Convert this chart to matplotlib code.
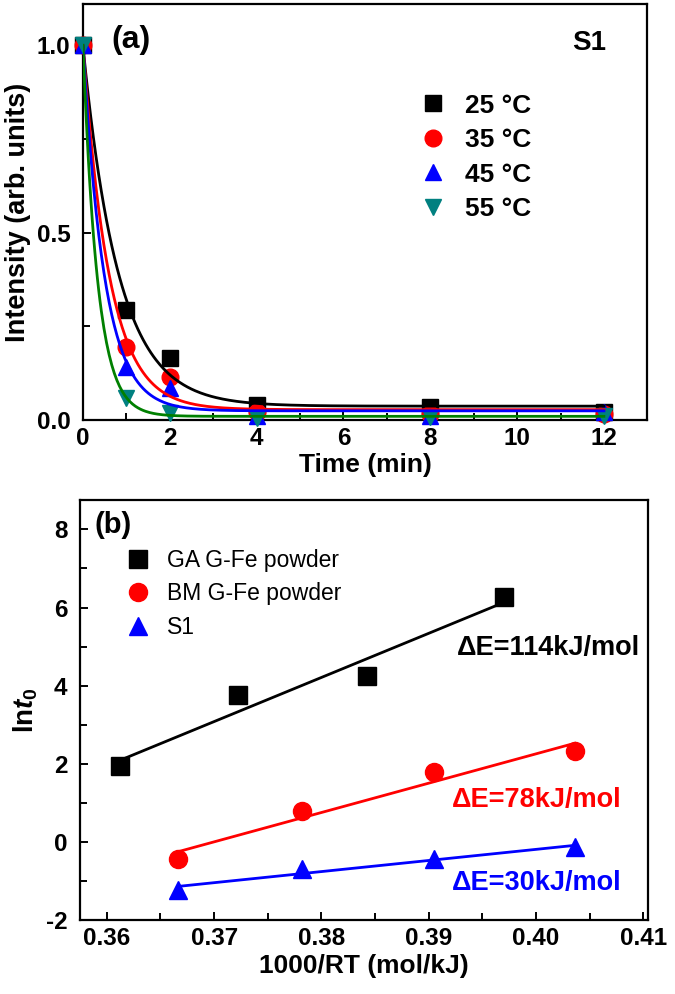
import numpy as np
import matplotlib
matplotlib.use('Agg')
import matplotlib.pyplot as plt
from matplotlib.lines import Line2D

plt.rcParams['font.family'] = ['Liberation Sans', 'DejaVu Sans']
plt.rcParams['font.weight'] = 'bold'
plt.rcParams['axes.unicode_minus'] = False
plt.rcParams['mathtext.fontset'] = 'custom'
plt.rcParams['mathtext.rm'] = 'Liberation Sans:bold'
plt.rcParams['mathtext.it'] = 'Liberation Sans:italic:bold'

# (a) intensity decay of S1
time_min = [0, 1, 2, 4, 8, 12]
temp_labels = ['25 °C', '35 °C', '45 °C', '55 °C']
int_25 = [1.0, 0.294, 0.166, 0.04, 0.035, 0.02]
int_35 = [1.0, 0.195, 0.115, 0.02, 0.015, 0.015]
int_45 = [1.0, 0.142, 0.086, 0.01, 0.01, 0.02]
int_55 = [1.0, 0.059, 0.019, 0.005, 0.008, 0.01]

# (b) Arrhenius plot
inv_rt_ga = [0.3612, 0.3722, 0.3842, 0.3970]
lnt_ga = [1.95, 3.75, 4.25, 6.28]
inv_rt_s = [0.3666, 0.3782, 0.3905, 0.4036]
lnt_bm = [-0.45, 0.78, 1.78, 2.32]
lnt_s1 = [-1.22, -0.70, -0.45, -0.13]
series_b = ['GA G-Fe powder', 'BM G-Fe powder', 'S1']
energy_labels = ['ΔE=114kJ/mol', 'ΔE=78kJ/mol', 'ΔE=30kJ/mol']


def exp_fit(t, y):
    # y = y0 + A*exp(-t/tau), tau by grid search, A and y0 by least squares
    t = np.asarray(t, float)
    y = np.asarray(y, float)
    best = None
    for tau in np.linspace(0.05, 5, 2000):
        M = np.column_stack([np.exp(-t / tau), np.ones_like(t)])
        coef = np.linalg.lstsq(M, y, rcond=None)[0]
        err = np.sum((M @ coef - y) ** 2)
        if best is None or err < best[0]:
            best = (err, tau, coef)
    _, tau, (a, y0) = best
    tt = np.linspace(0, max(t), 400)
    return tt, y0 + a * np.exp(-tt / tau)


def style_axes(ax):
    for s in ax.spines.values():
        s.set_linewidth(1.6)
    ax.tick_params(which='both', direction='in', top=False, right=False,
                   width=1.4, labelsize=17.5)
    ax.tick_params(axis='x', pad=5)
    ax.tick_params(axis='y', pad=9)
    ax.tick_params(which='major', length=6)
    ax.tick_params(which='minor', length=5)


fig = plt.figure(figsize=(6.75, 9.94), dpi=100)

# ---- panel (a)
ax1 = fig.add_axes([0.123, 0.5775, 0.836, 0.4185])
cols_a = ['black', 'red', 'blue', '#008080']
fitcols = ['black', 'red', 'blue', '#008000']
marks_a = ['s', 'o', '^', 'v']
data_a = [int_25, int_35, int_45, int_55]
for ys, c, m in zip(data_a, cols_a, marks_a):
    ax1.plot(time_min, ys, ls='none', marker=m, ms=12, color=c, mec=c,
             clip_on=False, zorder=3)
for ys, c in zip(data_a, fitcols):
    tt, yy = exp_fit(time_min, ys)
    ax1.plot(tt, yy, color=c, lw=2.0, zorder=4)

ax1.set_xlim(0, 13)
ax1.set_ylim(0, 1.11)
ax1.set_xticks(range(0, 13, 2))
ax1.set_xticks(range(1, 13, 2), minor=True)
ax1.set_yticks([0, 0.5, 1.0])
ax1.set_yticks([0.25, 0.75], minor=True)
ax1.set_yticklabels(['0.0', '0.5', '1.0'])
style_axes(ax1)
ax1.set_xlabel('Time (min)', fontsize=19, fontweight='bold', labelpad=2)
ax1.set_ylabel('Intensity (arb. units)', fontsize=19.5, fontweight='bold', labelpad=4)
ax1.text(0.05, 0.95, '(a)', transform=ax1.transAxes, fontsize=23,
         fontweight='bold', va='top')
ax1.text(0.897, 0.906, 'S1', transform=ax1.transAxes, fontsize=20,
         fontweight='bold', ha='center', va='center')

h_a = [Line2D([], [], ls='none', marker=m, ms=12, color=c, mec=c)
       for m, c in zip(marks_a, cols_a)]
ax1.legend(h_a, temp_labels, loc='upper left', bbox_to_anchor=(0.578, 0.81),
           frameon=False, prop={'weight': 'bold', 'size': 19},
           handlelength=1.0, handletextpad=0.7, labelspacing=0.4,
           borderaxespad=0)

# ---- panel (b)
ax2 = fig.add_axes([0.1185, 0.0744, 0.841, 0.4225])
data_b = [(inv_rt_ga, lnt_ga), (inv_rt_s, lnt_bm), (inv_rt_s, lnt_s1)]
cols_b = ['black', 'red', 'blue']
marks_b = ['s', 'o', '^']
for (xs, ys), c, m, lab in zip(data_b, cols_b, marks_b, series_b):
    ax2.plot(xs, ys, ls='none', marker=m, ms=13, color=c, mec=c,
             clip_on=False, zorder=3, label=lab)
    k, b = np.polyfit(xs, ys, 1)
    xx = np.array([min(xs), max(xs)])
    ax2.plot(xx, k * xx + b, color=c, lw=2.0, zorder=2)

ax2.set_xlim(0.3575, 0.4104)
ax2.set_ylim(-2, 8.75)
ax2.set_xticks([0.36, 0.37, 0.38, 0.39, 0.40, 0.41])
ax2.set_xticklabels(['0.36', '0.37', '0.38', '0.39', '0.40', '0.41'])
ax2.set_xticks([0.365, 0.375, 0.385, 0.395, 0.405], minor=True)
ax2.set_yticks([-2, 0, 2, 4, 6, 8])
ax2.set_yticks([-1, 1, 3, 5, 7], minor=True)
style_axes(ax2)
ax2.set_xlabel('1000/RT (mol/kJ)', fontsize=19, fontweight='bold', labelpad=3)
ax2.set_ylabel(r'ln$\it{t_0}$', fontsize=20, fontweight='bold', labelpad=4)
ax2.text(0.025, 0.975, '(b)', transform=ax2.transAxes, fontsize=21,
         fontweight='bold', va='top')

lbl_y = [4.96, 1.07, -1.05]
lbl_x = [0.4097, 0.4080, 0.4080]
for tx, ty, s, c in zip(lbl_x, lbl_y, energy_labels, cols_b):
    ax2.text(tx, ty, s, color=c, fontsize=19.5, fontweight='bold',
             ha='right', va='center')

ax2.legend(loc='upper left', bbox_to_anchor=(0.065, 0.905), frameon=False,
           prop={'weight': 'normal', 'size': 16.5}, handlelength=1.0,
           handletextpad=0.8, labelspacing=0.45, borderaxespad=0)

fig.savefig('out.png', dpi=100)
